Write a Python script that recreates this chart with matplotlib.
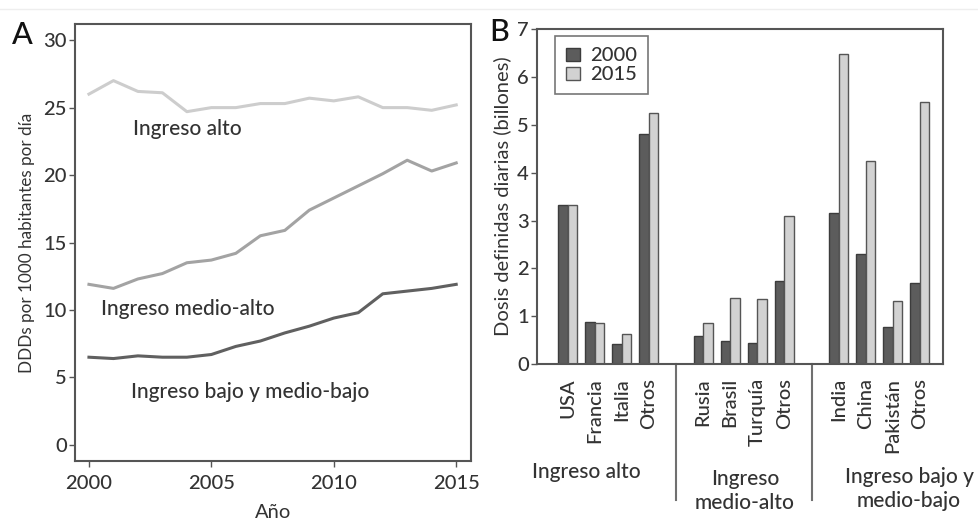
import numpy as np
import matplotlib.pyplot as plt
from matplotlib.lines import Line2D

plt.rcParams['font.family'] = ['Lato', 'DejaVu Sans']
plt.rcParams['font.weight'] = 'medium'

# Panel A: consumo por grupo de ingreso
anios = np.arange(2000, 2016)
ingreso_alto = [26.0, 27.0, 26.2, 26.1, 24.7, 25.0, 25.0, 25.3, 25.3, 25.7, 25.5, 25.8, 25.0, 25.0, 24.8, 25.2]
ingreso_medio_alto = [11.9, 11.6, 12.3, 12.7, 13.5, 13.7, 14.2, 15.5, 15.9, 17.4, 18.3, 19.2, 20.1, 21.1, 20.3, 20.9]
ingreso_bajo = [6.5, 6.4, 6.6, 6.5, 6.5, 6.7, 7.3, 7.7, 8.3, 8.8, 9.4, 9.8, 11.2, 11.4, 11.6, 11.9]

# Panel B: dosis por país
paises = ['USA', 'Francia', 'Italia', 'Otros',
          'Rusia', 'Brasil', 'Turquía', 'Otros',
          'India', 'China', 'Pakistán', 'Otros']
dosis_2000 = [3.33, 0.88, 0.43, 4.80, 0.59, 0.48, 0.44, 1.74, 3.16, 2.30, 0.78, 1.69]
dosis_2015 = [3.33, 0.87, 0.64, 5.24, 0.86, 1.39, 1.36, 3.09, 6.49, 4.24, 1.31, 5.47]
grupos = ['Ingreso alto', 'Ingreso\nmedio-alto', 'Ingreso bajo y\nmedio-bajo']

texto = '#333333'
borde = '#555555'
fs = 14.5

fig = plt.figure(figsize=(9.79, 5.21), dpi=100)
fig.add_artist(Line2D([0, 1], [0.983, 0.983], color='#eeeeee', lw=1))

# ---- A ----
axA = fig.add_axes([0.0766, 0.115, 0.4044, 0.839])
axA.plot(anios, ingreso_alto, color='#cdcdcd', lw=2.2)
axA.plot(anios, ingreso_medio_alto, color='#a3a3a3', lw=2.2)
axA.plot(anios, ingreso_bajo, color='#606060', lw=2.2)
axA.set_xlim(1999.43, 2015.6)
axA.set_ylim(-1.2, 31.2)
axA.set_xticks([2000, 2005, 2010, 2015])
axA.set_yticks([0, 5, 10, 15, 20, 25, 30])
axA.text(2001.8, 23.4, 'Ingreso alto', fontsize=15, color=texto, va='center')
axA.text(2000.5, 10.1, 'Ingreso medio-alto', fontsize=15, color=texto, va='center')
axA.text(2001.7, 3.9, 'Ingreso bajo y medio-bajo', fontsize=15, color=texto, va='center')
axA.set_xlabel('Año', fontsize=fs, color=texto, labelpad=9)
axA.set_ylabel('DDDs por 1000 habitantes por día', fontsize=12.3, color=texto, labelpad=6)
fig.text(0.012, 0.915, 'A', fontsize=22, color='#111111')

# ---- B ----
axB = fig.add_axes([0.5485, 0.301, 0.4147, 0.643])
x = np.array([0, 1, 2, 3, 5, 6, 7, 8, 10, 11, 12, 13])
ancho = 0.35
axB.bar(x - ancho / 2, dosis_2000, ancho, color='#5c5c5c', edgecolor='#3c3c3c', lw=1, label='2000')
axB.bar(x + ancho / 2, dosis_2015, ancho, color='#d2d2d2', edgecolor=borde, lw=1, label='2015')
axB.set_xlim(-1.13, 13.85)
axB.set_ylim(0, 7)
axB.set_yticks(range(8))
axB.set_xticks(x)
axB.set_xticklabels(paises, rotation=90, fontsize=fs, color=texto)
axB.set_ylabel('Dosis definidas diarias (billones)', fontsize=fs, color=texto, labelpad=4)
leg = axB.legend(loc='upper left', bbox_to_anchor=(0.044, 0.979), fontsize=fs,
                 frameon=True, fancybox=False, handlelength=0.7, handleheight=0.6,
                 handletextpad=0.5, borderpad=0.55, labelspacing=0.1, borderaxespad=0)
leg.get_frame().set_edgecolor(borde)
leg.get_frame().set_linewidth(1.2)
for t in leg.get_texts():
    t.set_color(texto)

# separadores y nombres de grupo bajo el eje
for sep in [4, 9]:
    axB.plot([sep, sep], [0, -2.83], color='#707070', lw=1.5, clip_on=False)
for cx, cy, nombre in [(0.68, -2.26, grupos[0]), (6.54, -2.66, grupos[1]), (12.6, -2.6, grupos[2])]:
    axB.text(cx, cy, nombre, ha='center', va='center', fontsize=15, color=texto,
             linespacing=1.25)
fig.text(0.500, 0.921, 'B', fontsize=22, color='#111111')

for ax in (axA, axB):
    for s in ax.spines.values():
        s.set_color(borde)
        s.set_linewidth(1.5)
    ax.tick_params(axis='y', length=4, width=1, color=borde, labelsize=fs, labelcolor=texto, pad=2)
    ax.tick_params(axis='x', width=1, color=borde, labelsize=fs, labelcolor=texto)
axA.tick_params(axis='x', length=4, pad=6)
axB.tick_params(axis='x', length=0, pad=10)

fig.savefig('out.png', dpi=100)
